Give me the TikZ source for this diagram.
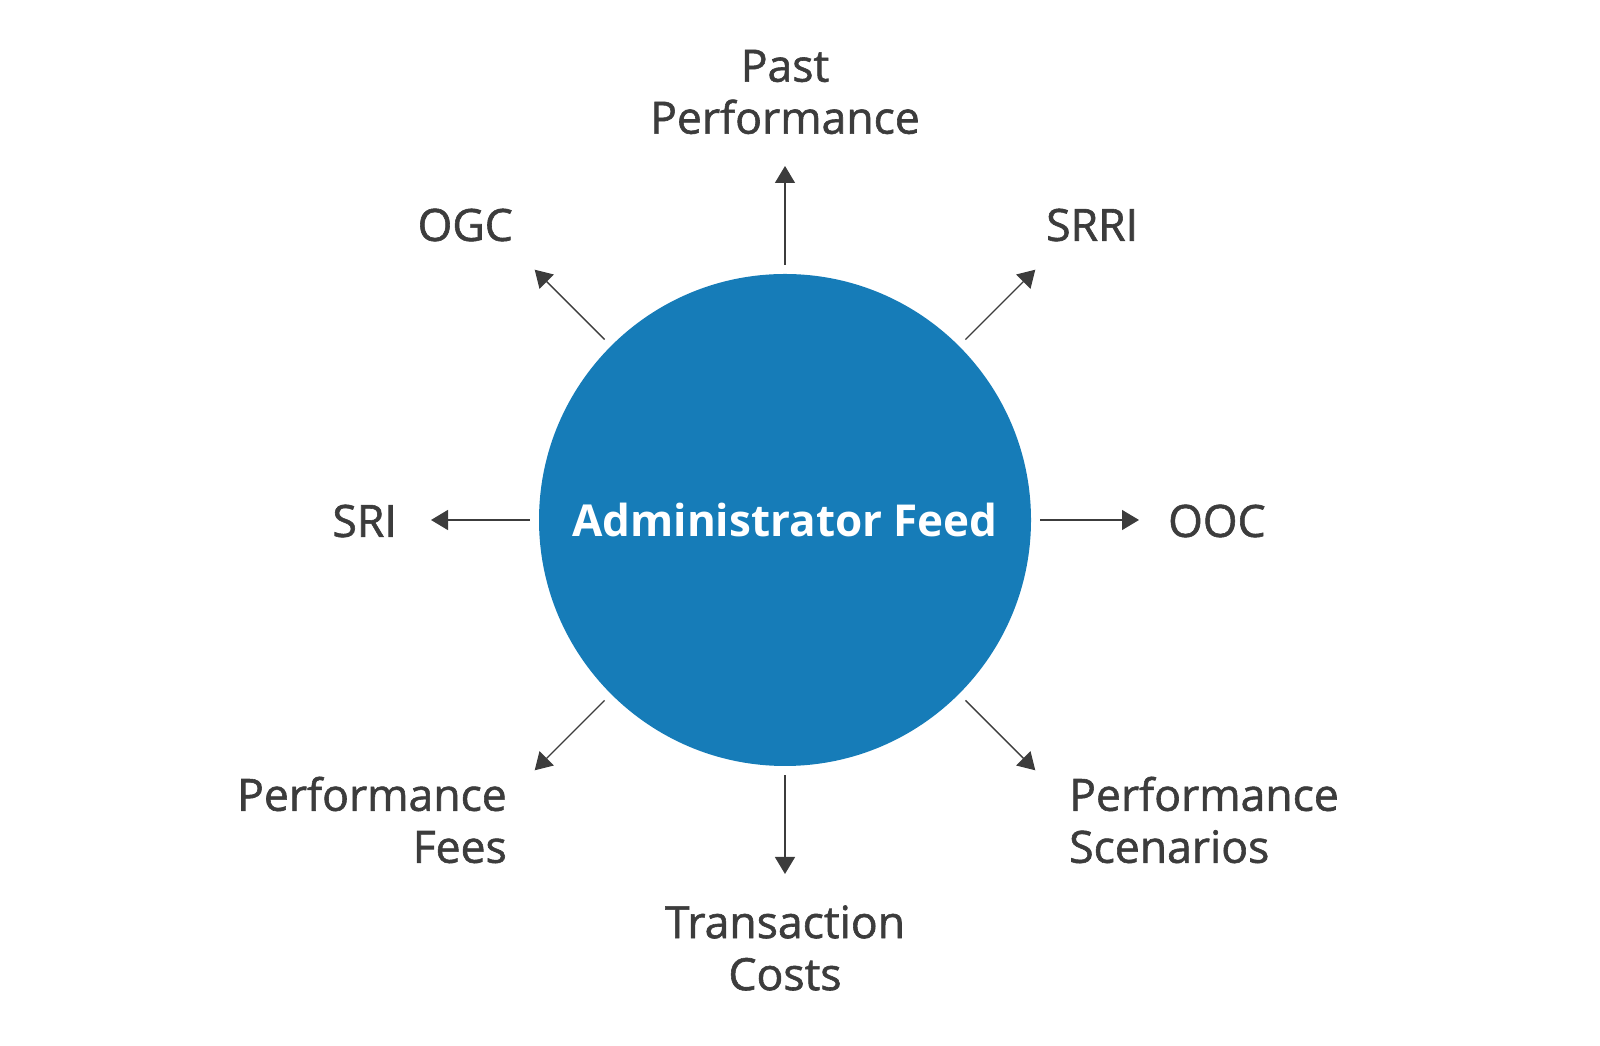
\documentclass[tikz,border=0pt]{standalone}
\usepackage{fontspec}
\setmainfont{Open Sans}
\newfontfamily\lblfont{Open Sans}[RawFeature={embolden=1.3}]
\usetikzlibrary{arrows.meta,calc}
\definecolor{feedblue}{HTML}{167CB8}
\definecolor{ink}{HTML}{3C3C3C}

\begin{document}
\begin{tikzpicture}[
  x=1pt,y=1pt,
  hub/.style={circle,fill=feedblue,draw=none,minimum size=492pt,inner sep=0pt,
    text=white,font=\fontsize{44}{52}\selectfont\bfseries},
  lbl/.style={text=ink,inner sep=0pt,font=\lblfont\fontsize{44.5}{52}\selectfont},
  arr/.style={-{Triangle[length=17pt,width=20pt]},line width=1.4pt,ink,shorten <=9pt}]
\useasboundingbox (0,0) rectangle (1600,1046);

% ---------- the feed in the middle ----------
\node[hub] (feed) at (785,526) {Administrator Feed};

% ---------- arrow tips, one per direction ----------
\coordinate (tipn)  at ($(feed.center)+(90:354)$);
\coordinate (tipne) at ($(feed.center)+(45:354)$);
\coordinate (tipe)  at ($(feed.center)+(0:354)$);
\coordinate (tipse) at ($(feed.center)+(-45:354)$);
\coordinate (tips)  at ($(feed.center)+(-90:354)$);
\coordinate (tipsw) at ($(feed.center)+(-135:354)$);
\coordinate (tipw)  at ($(feed.center)+(180:354)$);
\coordinate (tipnw) at ($(feed.center)+(135:354)$);
\draw[arr] (feed) -- (tipn);
\draw[arr] (feed) -- (tipne);
\draw[arr] (feed) -- (tipe);
\draw[arr] (feed) -- (tipse);
\draw[arr] (feed) -- (tips);
\draw[arr] (feed) -- (tipsw);
\draw[arr] (feed) -- (tipw);
\draw[arr] (feed) -- (tipnw);

% ---------- the eight outputs ----------
\node[lbl,align=center] (past) at (785,954) {Past\\Performance};
\node[lbl,anchor=east] (ogc) at (513,821) {OGC};
\node[lbl,anchor=west] (srri) at (1046,821) {SRRI};
\node[lbl,anchor=east] (sri) at (397,525) {SRI};
\node[lbl,anchor=west] (ooc) at (1168,525) {OOC};
\node[lbl,anchor=east,align=right] (fees) at (507,226) {Performance\\Fees};
\node[lbl,anchor=west,align=left] (scen) at (1069,226) {Performance\\Scenarios};
\node[lbl,align=center] (trans) at (785,98) {Transaction\\Costs};
\end{tikzpicture}
\end{document}
